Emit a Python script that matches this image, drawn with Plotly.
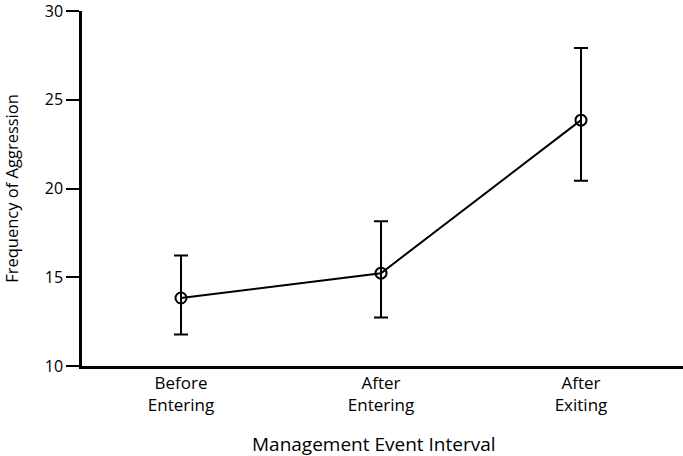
import plotly.graph_objects as go

categories = ["Before<br>Entering", "After<br>Entering", "After<br>Exiting"]
means = [13.83, 15.23, 23.85]
err_plus = [2.39, 2.92, 4.06]
err_minus = [2.05, 2.50, 3.42]
y_ticks = [10, 15, 20, 25, 30]

x_idx = list(range(len(categories)))

fig = go.Figure()
fig.add_trace(go.Scatter(
    x=x_idx, y=means, mode="lines+markers",
    line=dict(color="black", width=2),
    marker=dict(symbol="circle-open", size=11, color="black", line=dict(width=2)),
    error_y=dict(type="data", symmetric=False, array=err_plus, arrayminus=err_minus,
                 color="black", thickness=2, width=7),
    showlegend=False,
))

fig.add_annotation(
    text="Management Event Interval", xref="paper", yref="paper",
    x=0.486, y=-0.22, xanchor="center", yanchor="middle",
    showarrow=False, font=dict(size=19, family="Open Sans", color="black"),
)

fig.update_layout(
    width=683, height=456,
    margin=dict(l=82, r=0, t=11, b=90),
    paper_bgcolor="white", plot_bgcolor="white",
    font=dict(family="Open Sans", color="black"),
    xaxis=dict(
        range=[-0.495, 2.51], tickmode="array", tickvals=x_idx, ticktext=categories,
        showgrid=False, zeroline=False, showline=True, linecolor="black", linewidth=2.5,
        ticks="", tickfont=dict(size=17, color="black"),
    ),
    yaxis=dict(
        range=[10, 30], tickvals=y_ticks, showgrid=False, zeroline=False,
        showline=True, linecolor="black", linewidth=2.5,
        ticks="outside", ticklen=13, tickwidth=2, tickcolor="black",
        tickfont=dict(size=16, color="black"), ticklabeloverflow="allow",
        automargin=False,
        title=dict(text="Frequency of Aggression", font=dict(size=16.5, color="black"), standoff=22),
    ),
)

fig.write_html("out.html", config={"displayModeBar": False},
               post_script="document.body.style.margin='0';")
